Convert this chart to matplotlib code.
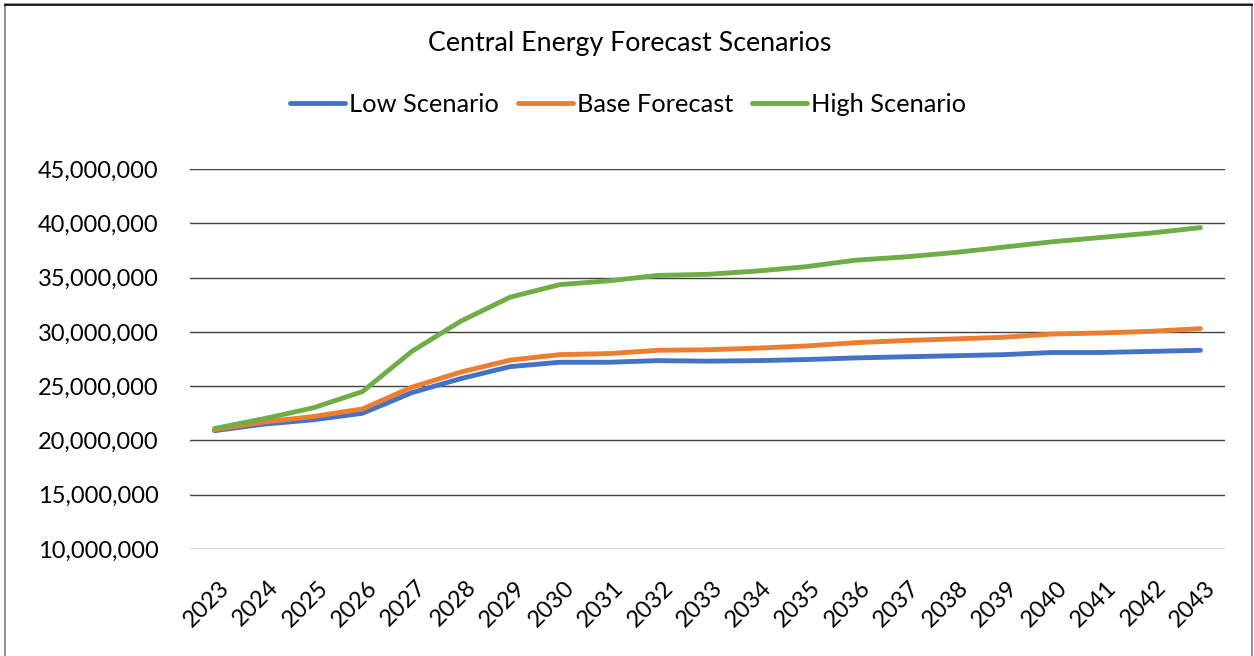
import matplotlib
matplotlib.use("Agg")
import matplotlib.pyplot as plt
import matplotlib.transforms as mtransforms
from matplotlib.lines import Line2D
from matplotlib.ticker import FuncFormatter, MultipleLocator

years = [str(y) for y in range(2023, 2044)]
low = [20.9, 21.5, 21.9, 22.5, 24.4, 25.7, 26.8, 27.2, 27.2, 27.35, 27.3,
       27.35, 27.45, 27.6, 27.7, 27.8, 27.9, 28.1, 28.1, 28.2, 28.3]
base = [21.0, 21.7, 22.2, 22.9, 24.9, 26.3, 27.4, 27.9, 28.0, 28.3, 28.35,
        28.5, 28.7, 29.0, 29.2, 29.35, 29.5, 29.8, 29.9, 30.05, 30.3]
high = [21.1, 22.0, 23.0, 24.5, 28.2, 31.0, 33.2, 34.35, 34.7, 35.2, 35.3,
        35.6, 36.0, 36.6, 36.9, 37.3, 37.8, 38.3, 38.7, 39.1, 39.6]
low = [v * 1e6 for v in low]
base = [v * 1e6 for v in base]
high = [v * 1e6 for v in high]
series = [("Low Scenario", low, "#4472C4"),
          ("Base Forecast", base, "#ED7D31"),
          ("High Scenario", high, "#70AD47")]

plt.rcParams['font.family'] = ['Lato', 'DejaVu Sans']
W, H = 1254, 656
fig = plt.figure(figsize=(W / 100, H / 100), dpi=100)

# outer border
fig.patches.append(plt.Rectangle((5 / W, -0.01), (1252 - 5) / W, 1 - 4.5 / H + 0.01,
                                 transform=fig.transFigure, fill=False,
                                 edgecolor="#808080", linewidth=1.2))
fig.lines.append(Line2D([5 / W, 1252 / W], [1 - 4.5 / H] * 2, transform=fig.transFigure,
                        color="black", linewidth=1.2))

left, right, top, bottom = 190, 1225, 169, 549
ax = fig.add_axes([left / W, 1 - bottom / H, (right - left) / W, (bottom - top) / H])

x = list(range(len(years)))
for name, vals, col in series:
    ax.plot(x, vals, color=col, linewidth=3.5, label=name,
            solid_capstyle='round', solid_joinstyle='round', zorder=3)

ax.set_xlim(-0.5, len(years) - 0.5)
ax.set_ylim(10e6, 45e6)
ax.yaxis.set_major_locator(MultipleLocator(5e6))
ax.yaxis.set_major_formatter(FuncFormatter(lambda v, p: f"{int(v):,}"))
ax.grid(axis='y', color='#404040', linewidth=1.0, zorder=1)
ax.set_axisbelow(True)
for s in ax.spines.values():
    s.set_visible(False)
ax.tick_params(axis='both', length=0)
ax.tick_params(axis='y', pad=22.5, labelsize=17)
ax.set_xticks(x)
ax.set_xticklabels(years)
ax.tick_params(axis='x', pad=20, labelsize=17)
offset = mtransforms.ScaledTranslation(4 / 100, 0, fig.dpi_scale_trans)
for lab in ax.get_xticklabels():
    lab.set_rotation(45)
    lab.set_ha('right')
    lab.set_va('top')
    lab.set_rotation_mode('anchor')
    lab.set_transform(lab.get_transform() + offset)

fig.text(630 / W, 1 - 43 / H, "Central Energy Forecast Scenarios", ha='center',
         va='center', fontsize=19.3, color='black')

handles = [Line2D([], [], color=c, linewidth=3.5, solid_capstyle='round') for _, _, c in series]
fig.legend(handles, [n for n, _, _ in series], loc='center', bbox_to_anchor=(628 / W, 1 - 104 / H),
           ncol=3, frameon=False, fontsize=18.3, handlelength=2.17, handletextpad=0.15,
           columnspacing=0.75)

fig.savefig("out.png", dpi=100)
